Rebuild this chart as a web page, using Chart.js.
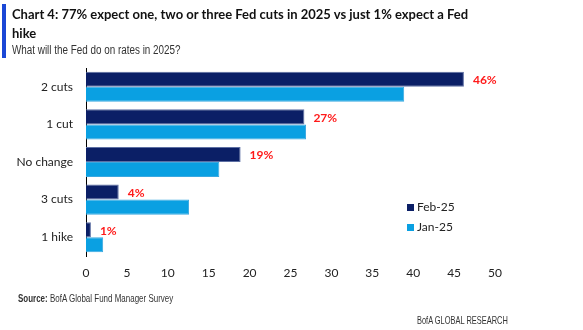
<!DOCTYPE html>
<html>
<head>
<meta charset="utf-8">
<script src="https://cdn.jsdelivr.net/npm/chart.js"></script>
<style>
  body { margin: 0; background: #fff; }
  #wrap { position: relative; width: 583px; height: 330px; overflow: hidden; font-family: Lato, sans-serif; }
  #chart { position: absolute; left: 0; top: 0; }
  .bar-mark { position: absolute; left: 2px; top: 4px; width: 4px; height: 54px; background: #1a47d6; }
  .title { position: absolute; left: 12px; top: 5px; width: 470px; font: bold 13px Lato, sans-serif; line-height: 19px; color: #111; }
  .narrow { transform-origin: left center; white-space: nowrap; }
  .subtitle { position: absolute; left: 12px; top: 43px; font: 12.5px "Liberation Sans", sans-serif; color: #333; transform: scaleX(0.79); }
  .legend { position: absolute; left: 407px; font: 12px Lato, sans-serif; color: #222; }
  .legend span { display: inline-block; width: 7px; height: 7px; margin-right: 3px; }
  .source { position: absolute; left: 18px; top: 292px; font: 10.5px "Liberation Sans", sans-serif; color: #333; transform: scaleX(0.76); }
  .footer { position: absolute; left: 417px; top: 314px; font: 10.5px "Liberation Sans", sans-serif; color: #333; transform: scaleX(0.71); }
</style>
</head>
<body>
<div id="wrap">
  <canvas id="chart" width="583" height="330"></canvas>
  <div class="bar-mark"></div>
  <div class="title">Chart 4: 77% expect one, two or three Fed cuts in 2025 vs just 1% expect a Fed hike</div>
  <div class="subtitle narrow">What will the Fed do on rates in 2025?</div>
  <div class="legend" style="top:199px"><span style="background:#0b1f66"></span>Feb-25</div>
  <div class="legend" style="top:219px"><span style="background:#0aa0e2"></span>Jan-25</div>
  <div class="source narrow"><b>Source:</b> BofA Global Fund Manager Survey</div>
  <div class="footer narrow">BofA GLOBAL RESEARCH</div>
</div>
<script>
// values
const categories = ["2 cuts", "1 cut", "No change", "3 cuts", "1 hike"];
const feb25 = [46.2, 26.7, 18.9, 4.0, 0.6];
const jan25 = [38.9, 26.9, 16.3, 12.6, 2.1];
const febLabels = ["46%", "27%", "19%", "4%", "1%"];
const xTicks = [0, 5, 10, 15, 20, 25, 30, 35, 40, 45, 50];

// red % labels next to the Feb bars
const valueLabels = {
    id: "valueLabels",
    afterDatasetsDraw(chart) {
        const ctx = chart.ctx;
        const meta = chart.getDatasetMeta(0);
        ctx.save();
        ctx.fillStyle = "#ff1a1a";
        ctx.font = "bold 12px Lato, sans-serif";
        ctx.textAlign = "left";
        ctx.textBaseline = "middle";
        meta.data.forEach((bar, i) => {
            ctx.fillText(febLabels[i], bar.x + 9, bar.y + 1);
        });
        ctx.restore();
    }
};

new Chart(document.getElementById("chart"), {
    type: "bar",
    data: {
        labels: categories,
        datasets: [
            { label: "Feb-25", data: feb25, backgroundColor: "#0b1f66", borderColor: "#5d6fa3", borderWidth: 1 },
            { label: "Jan-25", data: jan25, backgroundColor: "#0aa0e2", borderColor: "#3aa8e0", borderWidth: 1 }
        ]
    },
    options: {
        indexAxis: "y",
        responsive: false,
        animation: false,
        categoryPercentage: 0.8,
        barPercentage: 1.0,
        layout: { padding: { left: 0, right: 88, top: 68, bottom: 46 } },
        plugins: {
            legend: { display: false },
            tooltip: { enabled: false }
        },
        scales: {
            x: {
                min: 0,
                max: 50,
                afterFit: s => { s.height = 28; },
                afterBuildTicks: s => { s.ticks = xTicks.map(v => ({ value: v })); },
                grid: { display: false, drawTicks: false },
                border: { display: false },
                ticks: { color: "#222", font: { family: "Lato", size: 12 }, padding: 10 }
            },
            y: {
                afterFit: s => { s.width = 86; },
                grid: { display: false, drawTicks: false },
                border: { display: true, color: "#000", width: 1 },
                ticks: { color: "#222", font: { family: "Lato", size: 12 }, padding: 13 }
            }
        }
    },
    plugins: [valueLabels]
});
</script>
</body>
</html>
